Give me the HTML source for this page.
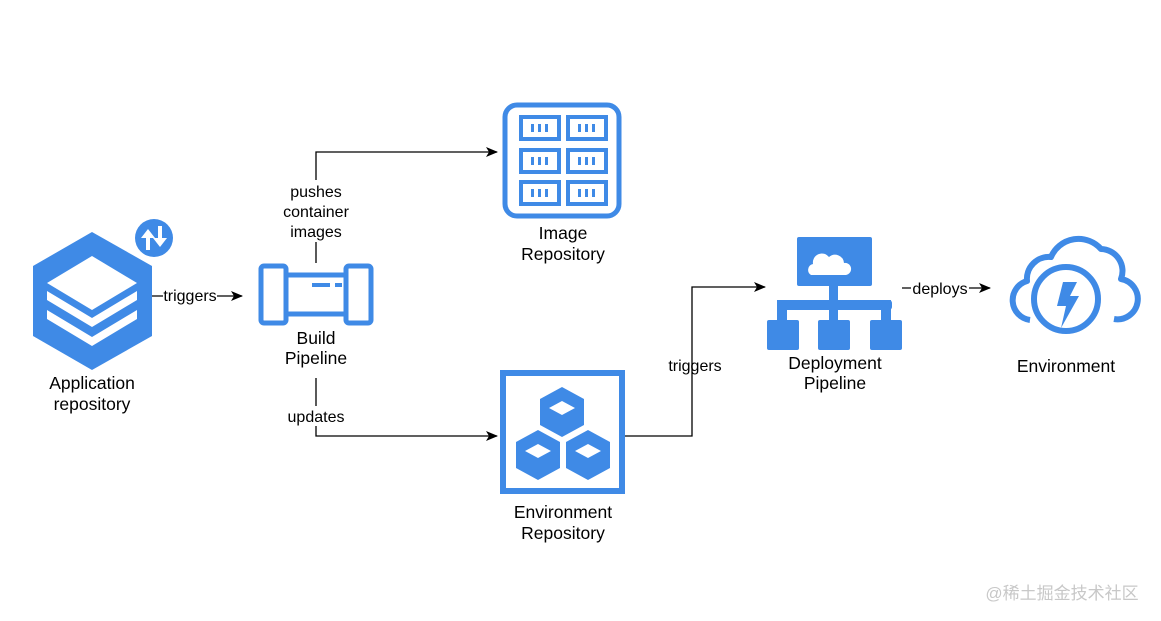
<!DOCTYPE html>
<html><head><meta charset="utf-8"><style>
html,body{margin:0;padding:0;background:#fff;width:1161px;height:621px;overflow:hidden}
svg text{font-family:"Liberation Sans",Helvetica,Arial,sans-serif;fill:#000}
</style></head><body>
<svg width="1161" height="621" viewBox="0 0 1161 621" xmlns="http://www.w3.org/2000/svg">
<defs><marker id="a" markerWidth="12" markerHeight="10" refX="11" refY="5" orient="auto" markerUnits="userSpaceOnUse"><path d="M0,0 L12,5 L0,10 L3,5 Z" fill="#000"/></marker></defs>
<g stroke="#000" stroke-width="1.3" fill="none">
<path d="M316,263 V152 H497" marker-end="url(#a)"/>
<path d="M316,378 V436 H497" marker-end="url(#a)"/>
<path d="M152,296 H242" marker-end="url(#a)"/>
<path d="M625,436 H692 V287 H765" marker-end="url(#a)"/>
<path d="M902,288 H990" marker-end="url(#a)"/>
</g>
<g font-size="16" text-anchor="middle">
<rect x="280" y="180" width="72" height="62" fill="#fff"/>
<text x="316" y="197">pushes</text><text x="316" y="217">container</text><text x="316" y="237">images</text>
<rect x="285" y="406" width="62" height="20" fill="#fff"/>
<text x="316" y="422">updates</text>
<rect x="163" y="286" width="54" height="20" fill="#fff"/>
<text x="190" y="301">triggers</text>
<text x="695" y="371">triggers</text>
<rect x="911" y="279" width="58" height="20" fill="#fff"/>
<text x="940" y="294">deploys</text>
<g font-size="17.5">
<text x="92" y="389">Application</text><text x="92" y="410">repository</text>
<text x="316" y="344">Build</text><text x="316" y="364">Pipeline</text>
<text x="563" y="239">Image</text><text x="563" y="260">Repository</text>
<text x="563" y="518">Environment</text><text x="563" y="539">Repository</text>
<text x="835" y="369">Deployment</text><text x="835" y="389">Pipeline</text>
<text x="1066" y="372">Environment</text>
</g>
</g>
<!-- app repo -->
<polygon points="92,232 152,266 152,336 92,370 33,336 33,266" fill="#3f8ae6"/>
<polygon points="92,256 137,283 92,310 47,283" fill="#fff"/>
<polygon points="47,291 92,318 137,291 137,300 92,327 47,300" fill="#fff"/>
<polygon points="47,310 92,337 137,310 137,319 92,346 47,319" fill="#fff"/>
<circle cx="154" cy="238" r="19" fill="#3f8ae6"/>
<path d="M146,250 V238 H141 L148,229 L155,238 H150 V250Z M158,226 H162 V238 H167 L160,247 L153,238 H158Z" fill="#fff"/>
<!-- build pipeline -->
<g fill="none" stroke="#3f8ae6" stroke-width="5">
<rect x="261" y="266" width="25" height="57" rx="3"/>
<rect x="346" y="266" width="25" height="57" rx="3"/>
<path d="M286,275 H346 M286,314 H346"/>
</g>
<rect x="312" y="283" width="18" height="4" fill="#3f8ae6"/><rect x="335" y="283" width="7" height="4" fill="#3f8ae6"/>
<!-- image repo -->
<rect x="505" y="105" width="114" height="111" rx="12" fill="none" stroke="#3f8ae6" stroke-width="5"/>
<g fill="none" stroke="#3f8ae6" stroke-width="4">
<rect x="521" y="117" width="38" height="22"/><rect x="568" y="117" width="38" height="22"/>
<rect x="521" y="150" width="38" height="22"/><rect x="568" y="150" width="38" height="22"/>
<rect x="521" y="182" width="38" height="22"/><rect x="568" y="182" width="38" height="22"/>
</g>
<g fill="#3f8ae6">
<rect x="531" y="124" width="3" height="8"/><rect x="538" y="124" width="3" height="8"/><rect x="545" y="124" width="3" height="8"/>
<rect x="578" y="124" width="3" height="8"/><rect x="585" y="124" width="3" height="8"/><rect x="592" y="124" width="3" height="8"/>
<rect x="531" y="157" width="3" height="8"/><rect x="538" y="157" width="3" height="8"/><rect x="545" y="157" width="3" height="8"/>
<rect x="578" y="157" width="3" height="8"/><rect x="585" y="157" width="3" height="8"/><rect x="592" y="157" width="3" height="8"/>
<rect x="531" y="189" width="3" height="8"/><rect x="538" y="189" width="3" height="8"/><rect x="545" y="189" width="3" height="8"/>
<rect x="578" y="189" width="3" height="8"/><rect x="585" y="189" width="3" height="8"/><rect x="592" y="189" width="3" height="8"/>
</g>
<!-- env repo -->
<rect x="503" y="373" width="119" height="118" fill="none" stroke="#3f8ae6" stroke-width="6"/>
<g fill="#3f8ae6">
<polygon points="562,387 584,399 584,425 562,437 540,425 540,399"/>
<polygon points="538,430 560,442 560,468 538,480 516,468 516,442"/>
<polygon points="588,430 610,442 610,468 588,480 566,468 566,442"/>
</g>
<g fill="#fff">
<polygon points="562,401 575,408 562,415 549,408"/>
<polygon points="538,444 551,451 538,458 525,451"/>
<polygon points="588,444 601,451 588,458 575,451"/>
</g>
<!-- deployment pipeline -->
<g fill="#3f8ae6">
<rect x="797" y="237" width="75" height="49" rx="2"/>
<rect x="829" y="285" width="9" height="18"/>
<rect x="777" y="300" width="115" height="10" rx="3"/>
<rect x="777" y="300" width="10" height="22"/><rect x="829" y="300" width="9" height="22"/><rect x="881" y="300" width="10" height="22"/>
<rect x="767" y="320" width="32" height="30" rx="2"/><rect x="818" y="320" width="32" height="30" rx="2"/><rect x="870" y="320" width="32" height="30" rx="2"/>
</g>
<path d="M811,275 a6,6 0 0 1 2,-11 a9,9 0 0 1 16,-7 a9,9 0 0 1 15,6 a6,6 0 0 1 2,12 Z" fill="#fff"/>
<!-- environment -->
<path d="M1030,320 a20,20 0 0 1 -3,-39 a22,22 0 0 1 24,-24 a30,30 0 0 1 50,-8 a22,22 0 0 1 20,30 a20,20 0 0 1 -7,40" fill="none" stroke="#3f8ae6" stroke-width="6" stroke-linejoin="round"/>
<circle cx="1066" cy="299" r="32" fill="#fff" stroke="#3f8ae6" stroke-width="6"/>
<polygon points="1063,282 1077,282 1070,296 1079,296 1061,328 1066,306 1057,306" fill="#3f8ae6"/>
<text x="1062" y="599" font-size="17" text-anchor="middle" style="font-family:'Liberation Sans','Noto Sans CJK SC',sans-serif;fill:#c8c8c8">@稀土掘金技术社区</text>
</svg>
</body></html>
